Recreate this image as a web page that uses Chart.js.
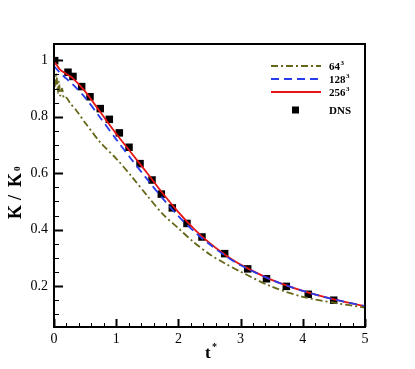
<!DOCTYPE html>
<html>
<head>
<meta charset="utf-8">
<script src="https://cdn.jsdelivr.net/npm/chart.js@4.4.1/dist/chart.umd.min.js"></script>
<style>
  html, body { margin: 0; padding: 0; background: #fff; }
  #wrap { width: 415px; height: 369px; }
</style>
</head>
<body>
<div id="wrap"><canvas id="grafico"></canvas></div>
<script>
// ---- data ----
var tDNS = [0.011, 0.225, 0.305, 0.445, 0.579, 0.744, 0.889, 1.05, 1.206, 1.383, 1.576, 1.725, 1.902, 2.138, 2.379, 2.744, 3.114, 3.416, 3.735, 4.088, 4.497];
var kDNS = [0.999, 0.958, 0.943, 0.907, 0.871, 0.829, 0.791, 0.743, 0.692, 0.634, 0.576, 0.526, 0.477, 0.422, 0.374, 0.315, 0.261, 0.226, 0.199, 0.171, 0.150];

var t256 = [0, 0.05, 0.1, 0.2, 0.3, 0.5, 0.75, 1, 1.25, 1.5, 1.75, 2, 2.25, 2.5, 2.75, 3, 3.5, 4, 4.5, 5];
var k256 = [0.995, 0.982, 0.966, 0.952, 0.937, 0.89, 0.815, 0.74, 0.67, 0.6, 0.528, 0.462, 0.403, 0.353, 0.311, 0.276, 0.222, 0.183, 0.153, 0.129];

var t128 = [0, 0.1, 0.2, 0.3, 0.5, 0.75, 1, 1.25, 1.5, 1.75, 2, 2.25, 2.5, 2.75, 3, 3.5, 4, 4.5, 5];
var k128 = [0.98, 0.955, 0.935, 0.915, 0.868, 0.795, 0.72, 0.648, 0.578, 0.51, 0.448, 0.394, 0.348, 0.308, 0.274, 0.222, 0.183, 0.153, 0.129];

var t64 = [0, 0.02, 0.04, 0.06, 0.08, 0.1, 0.13, 0.16, 0.2, 0.26, 0.35, 0.5, 0.75, 1, 1.25, 1.5, 1.75, 2, 2.25, 2.5, 2.75, 3, 3.5, 4, 4.5, 5];
var k64 = [0.965, 0.91, 0.95, 0.885, 0.925, 0.875, 0.9, 0.865, 0.868, 0.848, 0.825, 0.779, 0.708, 0.652, 0.588, 0.52, 0.455, 0.405, 0.355, 0.313, 0.28, 0.251, 0.198, 0.162, 0.141, 0.124];

var xTicks = [0, 1, 2, 3, 4, 5];
var yTicks = [0.2, 0.4, 0.6, 0.8, 1];
var legendNames = ['64', '128', '256', 'DNS'];

function pts(xs, ys) {
    return xs.map(function (x, i) { return { x: x, y: ys[i] }; });
}
var serif = "'Liberation Serif', 'Times New Roman', serif";

// frame, inward ticks, axis titles and legend
var moldura = {
    id: 'moldura',
    afterDraw: function (chart) {
        var c = chart.ctx, a = chart.chartArea;
        var xs = chart.scales.x, ys = chart.scales.y;
        c.save();
        c.strokeStyle = '#000';
        // minor / major ticks
        for (var v = 0; v <= 5.0001; v += 0.2) {
            var px = Math.round(xs.getPixelForValue(v)) + 0.5;
            var maj = xTicks.indexOf(Math.round(v * 10) / 10) >= 0;
            c.beginPath();
            c.moveTo(px, a.bottom);
            c.lineTo(px, a.bottom - (maj ? 8 : 4));
            c.lineWidth = maj ? 2 : 1;
            c.stroke();
        }
        for (var w = 0.1; w <= 1.05; w += 0.05) {
            var py = Math.round(ys.getPixelForValue(w)) + 0.5;
            var mj = yTicks.indexOf(Math.round(w * 100) / 100) >= 0;
            c.beginPath();
            c.moveTo(a.left, py);
            c.lineTo(a.left + (mj ? 9 : 5), py);
            c.lineWidth = mj ? 2 : 1;
            c.stroke();
        }
        // frame
        c.lineWidth = 2;
        c.strokeRect(a.left, a.top, a.right - a.left, a.bottom - a.top);

        // axis titles
        c.fillStyle = '#000';
        c.font = 'bold 17px ' + serif;
        c.textBaseline = 'alphabetic';
        c.textAlign = 'left';
        c.fillText('t', 205, 358);
        c.font = 'bold 10px ' + serif;
        c.fillText('*', 212, 350);

        c.save();
        c.translate(21, 219);
        c.rotate(-Math.PI / 2);
        c.font = 'bold 18px ' + serif;
        c.fillText('K', 0, 0);
        c.fillText('/', 19, 0);
        c.fillText('K', 32, 0);
        c.font = 'bold 9px ' + serif;
        c.fillText('0', 48, -1);
        c.restore();

        // legend
        var rows = [66, 79, 92, 110];
        chart.data.datasets.forEach(function (ds, i) {
            var y = rows[i];
            c.save();
            if (ds.showLine === false) {
                c.fillStyle = '#000';
                c.fillRect(292, y - 3.5, 7, 7);
            } else {
                c.strokeStyle = ds.borderColor;
                c.lineWidth = ds.borderWidth;
                c.setLineDash(ds.borderDash || []);
                c.beginPath();
                c.moveTo(271, y);
                c.lineTo(321, y);
                c.stroke();
            }
            c.restore();
            c.fillStyle = '#000';
            c.font = 'bold 11px ' + serif;
            c.fillText(legendNames[i], 329, y + 4);
            if (ds.showLine !== false) {
                var lw = c.measureText(legendNames[i]).width;
                c.font = 'bold 7px ' + serif;
                c.fillText('3', 329 + lw + 0.5, y - 1);
            }
        });
        c.restore();
    }
};

var ctx = document.getElementById('grafico').getContext('2d');
var grafico = new Chart(ctx, {
    type: 'line',
    data: {
        datasets: [
            {
                label: '64^3',
                data: pts(t64, k64),
                borderColor: 'rgb(102, 102, 24)',
                borderWidth: 1.8,
                borderDash: [7, 3, 2, 3],
                pointRadius: 0,
                tension: 0.3
            },
            {
                label: '128^3',
                data: pts(t128, k128),
                borderColor: 'rgb(40, 60, 235)',
                borderWidth: 1.8,
                borderDash: [8, 5],
                pointRadius: 0,
                tension: 0.3
            },
            {
                label: '256^3',
                data: pts(t256, k256),
                borderColor: 'rgb(230, 20, 20)',
                borderWidth: 1.8,
                pointRadius: 0,
                tension: 0.3
            },
            {
                label: 'DNS',
                data: pts(tDNS, kDNS),
                showLine: false,
                pointStyle: 'rect',
                pointRadius: 5.3,
                pointBackgroundColor: '#000',
                pointBorderColor: '#000',
                pointBorderWidth: 0
            }
        ]
    },
    options: {
        responsive: true,
        maintainAspectRatio: false,
        animation: false,
        layout: { padding: { top: 44, right: 50, left: 0, bottom: 0 } },
        plugins: {
            legend: { display: false },
            tooltip: { enabled: false }
        },
        scales: {
            x: {
                type: 'linear',
                min: 0,
                max: 5,
                grid: { display: false, drawTicks: false },
                border: { display: false },
                afterFit: function (s) { s.height = 42; },
                afterBuildTicks: function (s) {
                    s.ticks = xTicks.map(function (v) { return { value: v }; });
                },
                ticks: {
                    color: '#000',
                    padding: 4,
                    maxRotation: 0,
                    autoSkip: false,
                    font: { family: serif, size: 14 }
                }
            },
            y: {
                type: 'linear',
                min: 0.055,
                max: 1.058,
                grid: { display: false, drawTicks: false },
                border: { display: false },
                afterFit: function (s) { s.width = 54; },
                afterBuildTicks: function (s) {
                    s.ticks = yTicks.map(function (v) { return { value: v }; });
                },
                ticks: {
                    color: '#000',
                    padding: 6,
                    autoSkip: false,
                    font: { family: serif, size: 14 },
                    callback: function (v) { return String(Math.round(v * 10) / 10); }
                }
            }
        }
    },
    plugins: [moldura]
});
</script>
</body>
</html>
